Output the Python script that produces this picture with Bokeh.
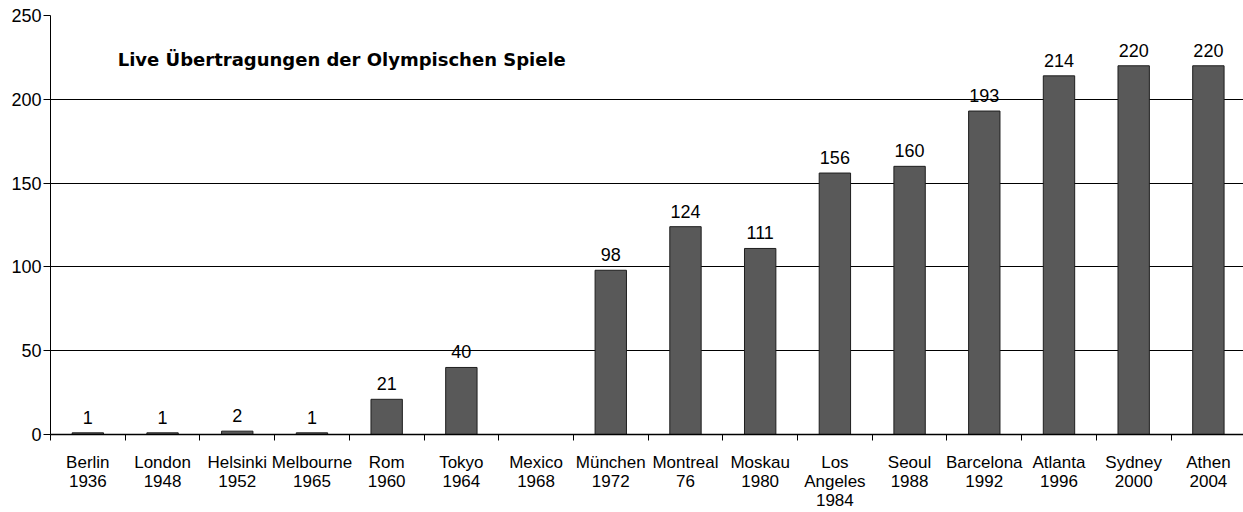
from bokeh.plotting import figure
from bokeh.models import Range1d, FixedTicker, Label
from bokeh.core.properties import value
from bokeh.embed import file_html
from bokeh.resources import INLINE

cities = ["Berlin", "London", "Helsinki", "Melbourne", "Rom", "Tokyo", "Mexico",
          "München", "Montreal", "Moskau", "Los\nAngeles", "Seoul", "Barcelona",
          "Atlanta", "Sydney", "Athen"]
years = ["1936", "1948", "1952", "1965", "1960", "1964", "1968", "1972", "76",
         "1980", "1984", "1988", "1992", "1996", "2000", "2004"]
broadcasts = [1, 1, 2, 1, 21, 40, 0, 98, 124, 111, 156, 160, 193, 214, 220, 220]
y_ticks = [0, 50, 100, 150, 200, 250]
title_text = "Live Übertragungen der Olympischen Spiele"

n = len(cities)
centers = [i + 0.5 for i in range(n)]
bounds = list(range(n + 1))
value_labels = [str(v) if v > 0 else "" for v in broadcasts]

FONT = "Liberation Sans"

p = figure(width=1243, height=512, output_backend="svg", toolbar_location=None,
           x_range=Range1d(0, 15.97), y_range=Range1d(0, 250),
           min_border_left=50, min_border_right=0, min_border_top=15,
           min_border_bottom=78, outline_line_color=None,
           background_fill_color="white", border_fill_color="white")

p.vbar(x=centers, top=broadcasts, width=0.42, bottom=0,
       fill_color="#595959", line_color="#1e1e1e", line_width=1)

p.text(x=centers, y=broadcasts, text=value_labels, text_align="center",
       text_baseline="bottom", y_offset=-9, text_font=value(FONT),
       text_font_size="18px", text_color="black")

p.add_layout(Label(x=0.9, y=224, text=title_text, text_baseline="middle",
                   text_font="DejaVu Sans", text_font_style="bold",
                   text_font_size="18px", text_color="black"))

# grid
p.xgrid.visible = False
p.ygrid.ticker = FixedTicker(ticks=y_ticks)
p.ygrid.grid_line_color = "black"
p.ygrid.grid_line_width = 1

# y axis
p.yaxis.ticker = FixedTicker(ticks=y_ticks)
p.yaxis.axis_line_color = "black"
p.yaxis.major_tick_line_color = "black"
p.yaxis.major_tick_out = 7
p.yaxis.major_tick_in = 0
p.yaxis.minor_tick_line_color = None
p.yaxis.major_label_standoff = 2
p.yaxis.major_label_text_font = FONT
p.yaxis.major_label_text_font_size = "18px"
p.yaxis.major_label_text_color = "black"

# x axis
p.xaxis.ticker = FixedTicker(ticks=centers, minor_ticks=bounds)
p.xaxis.major_label_overrides = {c: f"{a}\n{b}" for c, a, b in zip(centers, cities, years)}
p.xaxis.axis_line_color = "black"
p.xaxis.axis_line_width = 1.5
p.xaxis.major_tick_line_color = None
p.xaxis.major_tick_out = 0
p.xaxis.major_tick_in = 0
p.xaxis.minor_tick_line_color = "black"
p.xaxis.minor_tick_out = 6
p.xaxis.minor_tick_in = 0
p.xaxis.major_label_standoff = 12
p.xaxis.major_label_text_font = FONT
p.xaxis.major_label_text_font_size = "17px"
p.xaxis.major_label_text_line_height = 1.0
p.xaxis.major_label_text_color = "black"

open("out.html", "w").write(file_html(p, INLINE))
